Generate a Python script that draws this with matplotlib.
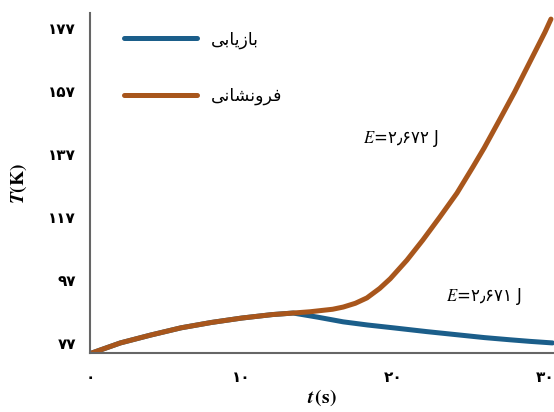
import matplotlib.pyplot as plt

# داده‌ها از روی تصویر خوانده شده
t_quench = [0, 2, 4, 6, 8, 10, 12, 13.4, 14.5, 16, 16.7, 17.5, 18.26, 19.1,
            19.8, 20.9, 21.95, 23.07, 24.2, 25.25, 26.0, 27.0, 28.0, 29.0,
            30.0, 30.4]
T_quench = [73.6, 77.0, 79.5, 81.8, 83.5, 84.9, 86.0, 86.5, 86.9, 87.7, 88.4,
            89.6, 91.3, 94.3, 97.4, 103.3, 109.7, 117.0, 124.6, 132.9, 139.0,
            147.8, 156.7, 166.2, 175.7, 179.9]

t_recov = [0, 2, 4, 6, 8, 10, 12, 13.4, 15.0, 16.7, 18.3, 20.0, 22.2, 24.4,
           26.0, 27.7, 29.0, 30.5]
T_recov = [73.6, 77.0, 79.5, 81.8, 83.5, 84.9, 86.0, 86.5, 85.2, 83.7, 82.7,
           81.8, 80.6, 79.5, 78.7, 78.0, 77.5, 77.0]

y_ticks = [77, 97, 117, 137, 157, 177]
y_labels = ['۷۷', '۹۷', '۱۱۷', '۱۳۷', '۱۵۷', '۱۷۷']
x_ticks = [0, 10, 20, 30]
x_labels = ['۰', '۱۰', '۲۰', '۳۰']

# برچسب‌ها با شکل‌های نمایشی (matplotlib شکل‌دهی عربی ندارد)
lbl_recov = '\uFBFD\uFE91\uFE8E\uFBFE\uFEAF\uFE8E\uFE91'          # بازیابی
lbl_quench = '\uFBFD\uFEE7\uFE8E\uFEB8\uFEE7\uFEED\uFEAE\uFED3'   # فرونشانی

plt.rcParams['mathtext.fontset'] = 'stix'

fig = plt.figure(figsize=(5.54, 4.12), dpi=100)
ax = fig.add_axes([0.1625, 0.1432, 0.8375, 0.825])

ax.plot(t_recov, T_recov, color='#1b5e8a', lw=3.6, solid_capstyle='round',
        solid_joinstyle='round', label=lbl_recov)
ax.plot(t_quench, T_quench, color='#a8561c', lw=3.6, solid_capstyle='round',
        solid_joinstyle='round', label=lbl_quench)

ax.set_xlim(0, 30.6)
ax.set_ylim(73.8, 181.8)
ax.set_xticks(x_ticks)
ax.set_xticklabels(x_labels, fontsize=11, fontweight='bold')
ax.set_yticks(y_ticks)
ax.set_yticklabels(y_labels, fontsize=11, fontweight='bold')
ax.tick_params(axis='both', length=0)
ax.tick_params(axis='x', pad=12)
ax.tick_params(axis='y', pad=10)

for s in ['top', 'right']:
    ax.spines[s].set_visible(False)
for s in ['left', 'bottom']:
    ax.spines[s].set_color('#666666')
    ax.spines[s].set_linewidth(1.5)

ax.set_ylabel(r'$\mathbfit{T}\mathbf{(K)}$', fontsize=14, labelpad=14)
ax.set_xlabel(r'$\mathbfit{t}\,\mathbf{(s)}$', fontsize=14, labelpad=2)

ax.text(18.0, 142.1, r'$\mathit{E}$=۲٫۶۷۲ J', fontsize=12, va='center')
ax.text(23.5, 91.9, r'$\mathit{E}$=۲٫۶۷۱ J', fontsize=12, va='center')

ax.legend(loc='upper left', bbox_to_anchor=(0.04, 0.995), frameon=False,
          fontsize=12.5, handlelength=4.2, labelspacing=2.2, handletextpad=0.8)

fig.savefig('out.png', dpi=100)
